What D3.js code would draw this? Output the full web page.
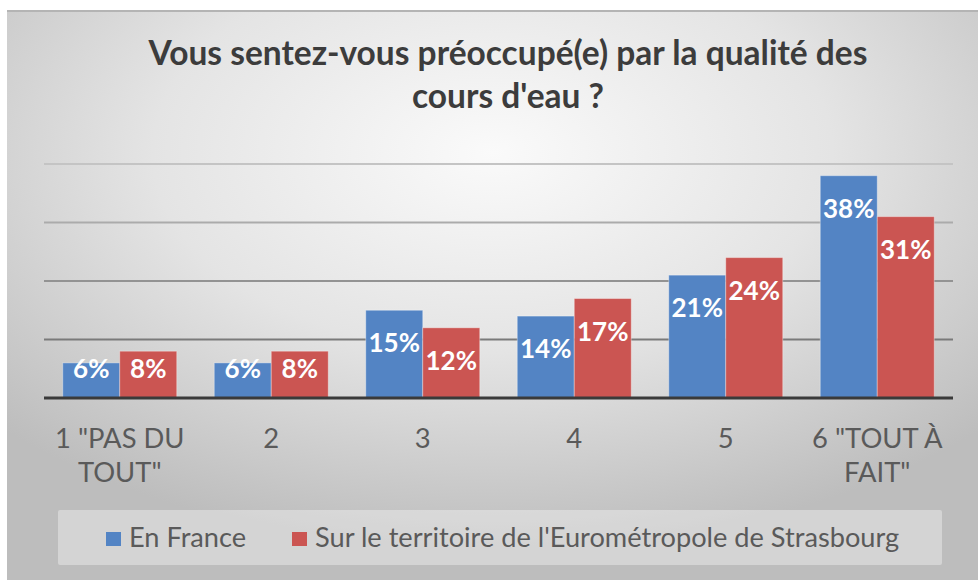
<!DOCTYPE html>
<html>
<head>
<meta charset="utf-8">
<script src="https://cdn.jsdelivr.net/npm/d3@7"></script>
<style>
  html, body { margin: 0; padding: 0; background: #ffffff; }
  svg { display: block; }
</style>
</head>
<body>
<svg id="chart" width="978" height="580"></svg>
<script>
// ---------- data ----------
const titleLines = ["Vous sentez-vous préoccupé(e) par la qualité des", "cours d'eau ?"];
const categories = ["1 \"PAS DU TOUT\"", "2", "3", "4", "5", "6 \"TOUT À FAIT\""];
const categoryLines = [["1 \"PAS DU", "TOUT\""], ["2"], ["3"], ["4"], ["5"], ["6 \"TOUT À", "FAIT\""]];
const seriesNames = ["En France", "Sur le territoire de l'Eurométropole de Strasbourg"];
const franceValues = [6, 6, 15, 14, 21, 38];
const strasbourgValues = [8, 8, 12, 17, 24, 31];
const gridTicks = [10, 20, 30, 40];
const seriesColors = ["#5384c4", "#cb5552"];

const svg = d3.select("#chart");
const defs = svg.append("defs");

// background
const bg = defs.append("radialGradient").attr("id", "bgGrad")
  .attr("cx", "50%").attr("cy", "25%").attr("r", "70%");
bg.append("stop").attr("offset", "0%").attr("stop-color", "#fafafa");
bg.append("stop").attr("offset", "50%").attr("stop-color", "#e4e4e4");
bg.append("stop").attr("offset", "100%").attr("stop-color", "#bdbdbd");

svg.append("rect").attr("x", 7).attr("y", 10).attr("width", 971).attr("height", 570)
  .attr("fill", "url(#bgGrad)");
svg.append("line").attr("x1", 7).attr("x2", 978).attr("y1", 11).attr("y2", 11)
  .attr("stroke", "#b4b4b4").attr("stroke-width", 2);

// title
svg.append("g").selectAll("text").data(titleLines).join("text")
  .attr("x", 508).attr("y", (d, i) => 65 + i * 43)
  .attr("text-anchor", "middle")
  .attr("font-family", "Lato, 'Open Sans', sans-serif")
  .attr("font-weight", "bold").attr("font-size", 33.5)
  .attr("fill", "#3c3c3c")
  .text(d => d);

// scales
const x = d3.scaleBand().domain(categories).range([44, 953]).paddingInner(0.2475).paddingOuter(0.2475 / 2);
const xs = d3.scaleBand().domain(seriesNames).range([0, x.bandwidth()]).padding(0);
const y = d3.scaleLinear().domain([0, 40]).range([398, 164]);

// gridlines
const gridColor = d3.scaleLinear().domain([10, 40]).range(["#7a7a7a", "#c4c4c4"]);
svg.append("g").selectAll("line").data(gridTicks).join("line")
  .attr("x1", 44).attr("x2", 953)
  .attr("y1", d => y(d)).attr("y2", d => y(d))
  .attr("stroke", d => gridColor(d)).attr("stroke-width", 2);

// bars
const rows = categories.map((c, i) => ({ cat: c, vals: [franceValues[i], strasbourgValues[i]] }));
const groups = svg.append("g").selectAll("g").data(rows).join("g")
  .attr("transform", d => `translate(${x(d.cat)},0)`);

groups.selectAll("rect").data(d => d.vals.map((v, j) => ({ v, s: seriesNames[j], j }))).join("rect")
  .attr("x", d => xs(d.s)).attr("width", xs.bandwidth())
  .attr("y", d => y(d.v)).attr("height", d => y(0) - y(d.v))
  .attr("fill", d => seriesColors[d.j])
  .attr("stroke", "rgba(255,255,255,0.35)").attr("stroke-width", 1);

groups.selectAll("text").data(d => d.vals.map((v, j) => ({ v, s: seriesNames[j], j }))).join("text")
  .attr("x", d => xs(d.s) + xs.bandwidth() / 2)
  .attr("y", d => Math.min(y(d.v) + 42, y(0) - 20.5))
  .attr("text-anchor", "middle")
  .attr("font-family", "Lato, 'Open Sans', sans-serif")
  .attr("font-weight", "bold").attr("font-size", 26)
  .attr("fill", "#ffffff")
  .text(d => d.v + "%");

// baseline axis
const axis = svg.append("g").attr("transform", `translate(0,${y(0)})`)
  .call(d3.axisBottom(x).tickSize(0).tickFormat(""));
axis.select(".domain").attr("stroke", "#3a3a3a").attr("stroke-width", 3)
  .attr("d", "M44,0H953");

// category labels
const catLabels = svg.append("g").selectAll("text").data(categories).join("text")
  .attr("x", d => x(d) + x.bandwidth() / 2)
  .attr("text-anchor", "middle")
  .attr("font-family", "Lato, 'Open Sans', sans-serif")
  .attr("font-size", 27.4).attr("fill", "#5a5a5a");
catLabels.each(function (d, i) {
  d3.select(this).selectAll("tspan").data(categoryLines[i]).join("tspan")
    .attr("x", x(d) + x.bandwidth() / 2)
    .attr("y", (t, k) => 448 + k * 34)
    .text(t => t);
});

// legend
svg.append("rect").attr("x", 58).attr("y", 510).attr("width", 884).attr("height", 55)
  .attr("fill", "#ffffff").attr("fill-opacity", 0.35).attr("rx", 2);
const legendX = [106, 292];
const lg = svg.append("g").selectAll("g").data(seriesNames).join("g")
  .attr("transform", (d, i) => `translate(${legendX[i]},0)`);
lg.append("rect").attr("x", 0).attr("y", 532).attr("width", 15).attr("height", 14)
  .attr("fill", (d, i) => seriesColors[i]);
lg.append("text").attr("x", 23).attr("y", 547)
  .attr("font-family", "Lato, 'Open Sans', sans-serif")
  .attr("font-size", 27.2).attr("fill", "#5a5a5a")
  .text(d => d);
</script>
</body>
</html>
